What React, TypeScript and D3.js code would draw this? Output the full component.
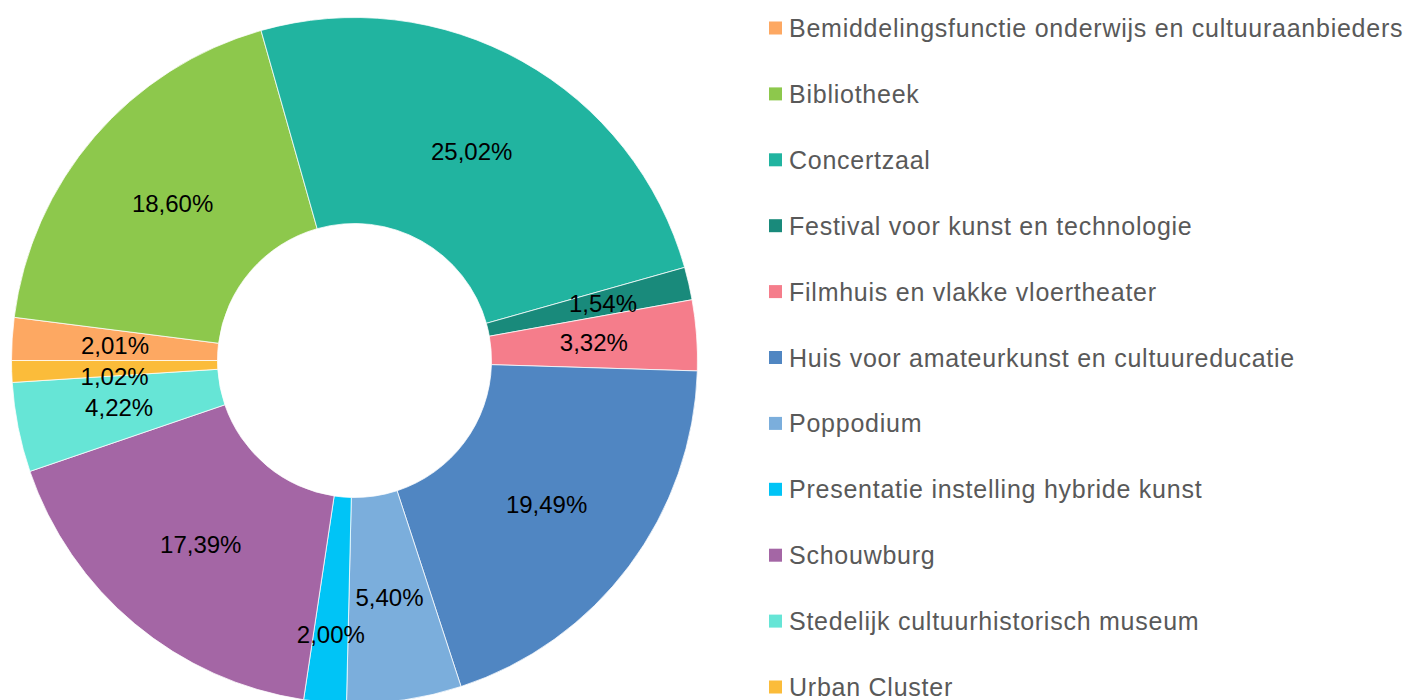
import React from "react";
import * as d3 from "d3";

const categories = [
  "Bemiddelingsfunctie onderwijs en cultuuraanbieders",
  "Bibliotheek",
  "Concertzaal",
  "Festival voor kunst en technologie",
  "Filmhuis en vlakke vloertheater",
  "Huis voor amateurkunst en cultuureducatie",
  "Poppodium",
  "Presentatie instelling hybride kunst",
  "Schouwburg",
  "Stedelijk cultuurhistorisch museum",
  "Urban Cluster",
];

const shares = [2.01, 18.6, 25.02, 1.54, 3.32, 19.49, 5.4, 2.0, 17.39, 4.22, 1.02];

const colors = [
  "#FDA862",
  "#8DC84C",
  "#21B4A0",
  "#198A7B",
  "#F57D8B",
  "#5086C2",
  "#7BAEDC",
  "#00C4F6",
  "#A466A5",
  "#66E5D6",
  "#FBBC3A",
];

const W = 1408;
const H = 700;
const cx = 354.5;
const cy = 360.5;
const outerR = 343;
const innerR = 137;

// small label adjustments to avoid overlap (like the source chart)
const labelNudge: Record<string, { dr?: number; dy?: number }> = {
  "Festival voor kunst en technologie": { dr: 15 },
  "Urban Cluster": { dy: 8 },
  "Presentatie instelling hybride kunst": { dr: 35 },
};

const fmt = (v: number) => v.toFixed(2).replace(".", ",") + "%";

export default function App() {
  const data = categories.map((name, i) => ({ name, value: shares[i], color: colors[i] }));
  const pie = d3
    .pie<{ name: string; value: number; color: string }>()
    .value((d) => d.value)
    .sort(null)
    .startAngle(-Math.PI / 2)
    .endAngle((3 * Math.PI) / 2);
  const arcs = pie(data);
  const arc = d3
    .arc<d3.PieArcDatum<{ name: string; value: number; color: string }>>()
    .innerRadius(innerR)
    .outerRadius(outerR);

  const legendY = d3.scalePoint<string>().domain(categories).range([28, 687]);
  const font = "'Liberation Sans', Arial, sans-serif";

  return (
    <svg
      width={W}
      height={H}
      style={{ position: "absolute", left: 0, top: 0, background: "#fff" }}
    >
      <g transform={`translate(${cx},${cy})`}>
        {arcs.map((a) => (
          <path key={a.data.name} d={arc(a) || ""} fill={a.data.color} stroke="#ffffff" strokeWidth={0.75} />
        ))}
        {arcs.map((a) => {
          const mid = (a.startAngle + a.endAngle) / 2;
          const r0 = (innerR + outerR) / 2;
          const n = labelNudge[a.data.name] || {};
          const r = r0 + (n.dr || 0);
          const x = Math.sin(mid) * r;
          const y = -Math.cos(mid) * r + (n.dy || 0);
          return (
            <text
              key={a.data.name + "-l"}
              x={x}
              y={y}
              textAnchor="middle"
              dominantBaseline="central"
              fontFamily={font}
              fontSize={24}
              fill="#000"
            >
              {fmt(a.data.value)}
            </text>
          );
        })}
      </g>
      <g>
        {data.map((d) => (
          <g key={d.name + "-g"} transform={`translate(0,${legendY(d.name)})`}>
            <rect x={769} y={-6.5} width={13} height={13} fill={d.color} />
            <text
              x={789}
              y={0}
              dominantBaseline="central"
              fontFamily={font}
              fontSize={25}
              fill="#595959"
              letterSpacing={0.75}
            >
              {d.name}
            </text>
          </g>
        ))}
      </g>
    </svg>
  );
}
